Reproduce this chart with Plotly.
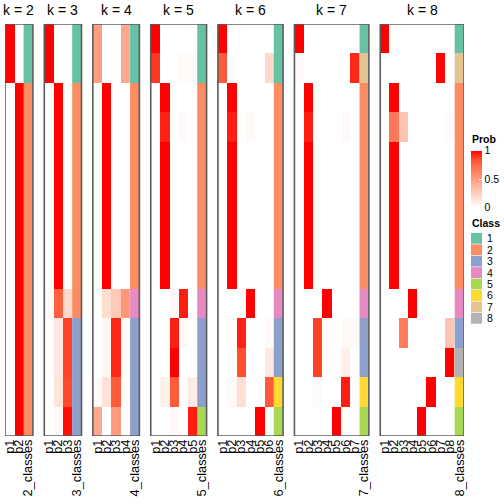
import plotly.graph_objects as go

# ---------------- data ----------------
k_values = [2, 3, 4, 5, 6, 7, 8]

prob_k2 = [[1, 0], [1, 0]] + [[0, 1]] * 12

prob_k3 = ([[1, 0, 0]] * 2 + [[0, 1, 0]] * 7 +
           [[0.02, 0.78, 0.2], [0, 0.12, 0.88], [0, 0.12, 0.88],
            [0, 0.14, 0.86], [0, 0.03, 0.97]])

prob_k4 = ([[0.5, 0, 0, 0.45]] * 2 + [[0, 1, 0, 0]] * 7 +
           [[0, 0.18, 0.28, 0.54], [0, 0.05, 0.93, 0], [0, 0.05, 0.93, 0],
            [0.03, 0.15, 0.8, 0], [0.45, 0, 0.52, 0]])

prob_k5 = ([[1, 0, 0, 0, 0], [0.9, 0, 0, 0.03, 0.03],
            [0, 1, 0, 0, 0], [0, 0.94, 0, 0.03, 0]] +
           [[0, 1, 0, 0, 0]] * 5 +
           [[0, 0, 0.03, 0.95, 0], [0, 0, 0.95, 0.03, 0], [0, 0, 1, 0, 0],
            [0, 0.08, 0.8, 0, 0.1], [0, 0, 0.03, 0, 0.95]])

prob_k6 = ([[1, 0, 0, 0, 0, 0], [0.8, 0, 0, 0, 0, 0.2],
            [0, 1, 0, 0, 0, 0], [0, 0.95, 0, 0.03, 0, 0]] +
           [[0, 1, 0, 0, 0, 0]] * 5 +
           [[0, 0, 0, 1, 0, 0], [0, 0, 0.94, 0, 0, 0.03], [0, 0, 0.85, 0, 0, 0.12],
            [0, 0.03, 0.17, 0, 0, 0.8], [0, 0, 0, 0, 1, 0]])

prob_k7 = ([[1, 0, 0, 0, 0, 0, 0], [0.03, 0, 0, 0, 0, 0, 0.93],
            [0, 1, 0, 0, 0, 0, 0], [0, 0.95, 0, 0, 0, 0.03, 0]] +
           [[0, 1, 0, 0, 0, 0, 0]] * 5 +
           [[0, 0, 0, 1, 0, 0, 0], [0, 0, 0.88, 0, 0, 0.03, 0.03],
            [0, 0, 0.88, 0, 0, 0.08, 0], [0, 0, 0.02, 0, 0, 0.95, 0],
            [0, 0, 0, 0, 1, 0, 0]])

prob_k8 = ([[1, 0, 0, 0, 0, 0, 0, 0], [0, 0, 0, 0, 0, 0, 1, 0],
            [0, 1, 0, 0, 0, 0, 0, 0], [0, 0.68, 0.3, 0, 0, 0, 0, 0.02]] +
           [[0, 1, 0, 0, 0, 0, 0, 0]] * 5 +
           [[0, 0, 0, 1, 0, 0, 0, 0], [0, 0, 0.66, 0, 0, 0, 0, 0.3],
            [0, 0, 0, 0, 0, 0, 0, 1], [0, 0, 0, 0, 0, 1, 0, 0],
            [0, 0, 0, 0, 1, 0, 0, 0]])

class_k2 = [1, 1, 2, 2, 2, 2, 2, 2, 2, 2, 2, 2, 2, 2]
class_k3 = [1, 1, 2, 2, 2, 2, 2, 2, 2, 2, 3, 3, 3, 3]
class_k4 = [1, 1, 2, 2, 2, 2, 2, 2, 2, 4, 3, 3, 3, 3]
class_k5 = [1, 1, 2, 2, 2, 2, 2, 2, 2, 4, 3, 3, 3, 5]
class_k6 = [1, 1, 2, 2, 2, 2, 2, 2, 2, 4, 3, 3, 6, 5]
class_k7 = [1, 7, 2, 2, 2, 2, 2, 2, 2, 4, 3, 3, 6, 5]
class_k8 = [1, 7, 2, 2, 2, 2, 2, 2, 2, 4, 3, 8, 6, 5]

class_labels = ["1", "2", "3", "4", "5", "6", "7", "8"]
class_colors = ["#66C2A5", "#FC8D62", "#8DA0CB", "#E78AC3",
                "#A6D854", "#FFD92F", "#E5C494", "#B3B3B3"]
prob_tick_vals = [0, 0.5, 1]
prob_tick_text = ["0", "0.5", "1"]

probs = [prob_k2, prob_k3, prob_k4, prob_k5, prob_k6, prob_k7, prob_k8]
classes = [class_k2, class_k3, class_k4, class_k5, class_k6, class_k7, class_k8]

# ---------------- layout helpers ----------------
W, H = 504, 504
ML, MR, MT, MB = 5, 40, 24, 68
PW, PH = W - ML - MR, H - MT - MB
GAP = 1.22
FONT = "Liberation Sans, Arial, sans-serif"


def px_x(p):
    return (p - ML) / PW


def px_y(p):
    return (H - MB - p) / PH


prob_scale = [[0.0, "rgb(255,255,255)"], [0.125, "rgb(255,231,222)"],
              [0.25, "rgb(255,207,191)"], [0.375, "rgb(255,183,160)"],
              [0.5, "rgb(255,158,129)"], [0.625, "rgb(255,132,100)"],
              [0.75, "rgb(255,104,70)"], [0.875, "rgb(255,70,40)"],
              [1.0, "rgb(255,0,0)"]]

nc = len(class_colors)
class_scale = []
for i, c in enumerate(class_colors):
    class_scale.append([i / nc, c])
    class_scale.append([(i + 1) / nc, c])

fig = go.Figure()
shapes = []
annotations = []
tickvals, ticktext = [], []
n_rows = len(class_k2)

left = 0.0
for idx, k in enumerate(k_values):
    z = probs[idx]
    fig.add_trace(go.Heatmap(
        z=z, x0=left + 0.5, dx=1, y0=0, dy=1,
        zmin=0, zmax=1, colorscale=prob_scale,
        showscale=(idx == 0),
        colorbar=dict(
            x=px_x(471), xanchor="left", xpad=0,
            y=px_y(179), yanchor="middle", ypad=0,
            len=57, lenmode="pixels", thickness=11, thicknessmode="pixels",
            outlinewidth=0, tickvals=prob_tick_vals, ticktext=prob_tick_text,
            ticks="inside", ticklen=3, tickcolor="white",
            tickfont=dict(size=10.5, family=FONT, color="black"),
        ),
        hoverinfo="skip",
    ))
    fig.add_trace(go.Heatmap(
        z=[[c] for c in classes[idx]], x0=left + 0.5 + k, dx=1, y0=0, dy=1,
        zmin=0.5, zmax=nc + 0.5, colorscale=class_scale, showscale=False,
        hoverinfo="skip",
    ))
    for j in range(k):
        tickvals.append(left + 0.5 + j)
        ticktext.append("p%d" % (j + 1))
    tickvals.append(left + 0.5 + k)
    ticktext.append("%d_classes" % k)
    right = left + k + 1
    shapes.append(dict(type="rect", xref="x", yref="y", x0=left, x1=right,
                       y0=-0.5, y1=n_rows - 0.5,
                       line=dict(color="#5c5c5c", width=1.6)))
    annotations.append(dict(text="k = %d" % k, xref="x", yref="paper",
                            x=(left + right) / 2, y=px_y(10.5),
                            xanchor="center", yanchor="middle", showarrow=False,
                            font=dict(size=14, family=FONT, color="black")))
    left = right + GAP

total = left - GAP

# legends
annotations.append(dict(text="<b>Prob</b>", xref="paper", yref="paper",
                        x=px_x(470), y=px_y(138.5), xanchor="left", yanchor="middle",
                        showarrow=False, font=dict(size=10.5, family=FONT, color="black")))
annotations.append(dict(text="<b>Class</b>", xref="paper", yref="paper",
                        x=px_x(470), y=px_y(223), xanchor="left", yanchor="middle",
                        showarrow=False, font=dict(size=10.5, family=FONT, color="black")))
for i, (lab, col) in enumerate(zip(class_labels, class_colors)):
    yc = 238.3 + i * 11.43
    shapes.append(dict(type="rect", xref="paper", yref="paper",
                       x0=px_x(471), x1=px_x(482), y0=px_y(yc + 5.4), y1=px_y(yc - 5.4),
                       fillcolor=col, line=dict(width=0)))
    annotations.append(dict(text=lab, xref="paper", yref="paper",
                            x=px_x(485), y=px_y(yc), xanchor="left", yanchor="middle",
                            showarrow=False, font=dict(size=10.5, family=FONT, color="black")))

fig.update_layout(
    width=W, height=H,
    margin=dict(l=ML, r=MR, t=MT, b=MB, pad=0, autoexpand=False),
    paper_bgcolor="white", plot_bgcolor="white",
    shapes=shapes, annotations=annotations,
    xaxis=dict(range=[0, total], tickvals=tickvals, ticktext=ticktext,
               tickangle=-90, showgrid=False, zeroline=False, showline=False,
               ticks="", automargin=False,
               tickfont=dict(size=12.8, family=FONT, color="black")),
    yaxis=dict(range=[n_rows - 0.5, -0.5], showticklabels=False, showgrid=False,
               zeroline=False, showline=False, ticks="", automargin=False),
    font=dict(family=FONT, color="black"),
)

fig.write_html("out.html", config={"displayModeBar": False},
               post_script="document.body.style.margin='0px';document.body.style.overflow='hidden';")
